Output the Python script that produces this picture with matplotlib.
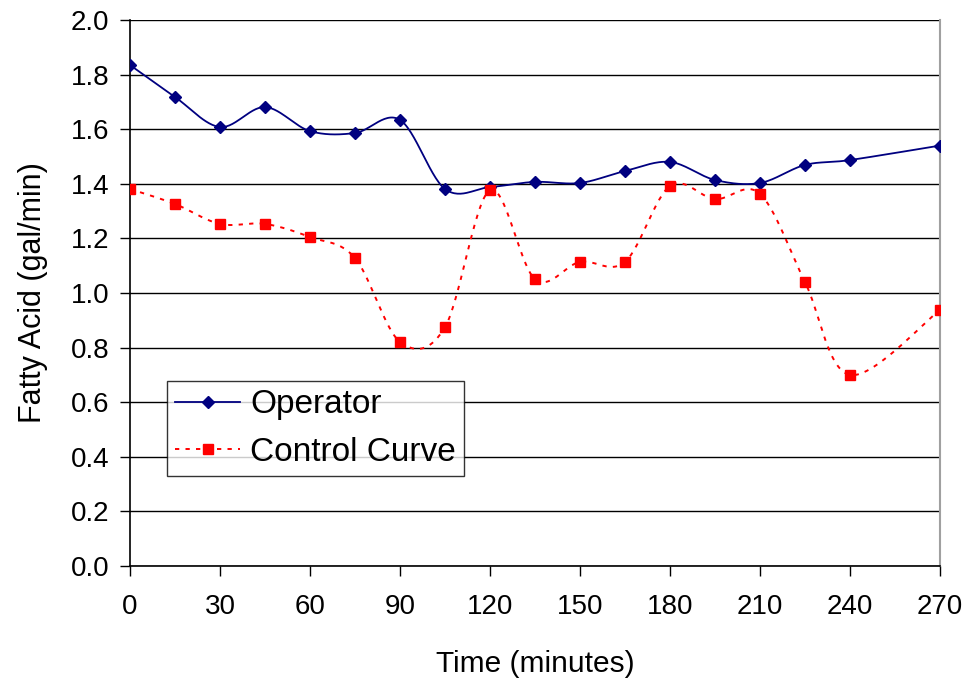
import numpy as np
import matplotlib
matplotlib.use("Agg")
import matplotlib.pyplot as plt
from matplotlib.lines import Line2D

plt.rcParams['font.family'] = ['Liberation Sans', 'DejaVu Sans']

time_min = [0, 15, 30, 45, 60, 75, 90, 105, 120, 135, 150, 165, 180, 195, 210, 225, 240, 270]
operator = [1.835, 1.718, 1.608, 1.681, 1.593, 1.586, 1.634, 1.381, 1.388, 1.407, 1.403, 1.447,
            1.480, 1.414, 1.403, 1.469, 1.487, 1.540]
control = [1.381, 1.326, 1.253, 1.253, 1.205, 1.128, 0.821, 0.875, 1.377, 1.051, 1.114, 1.114,
           1.392, 1.344, 1.363, 1.040, 0.700, 0.938]
x_ticks = [0, 30, 60, 90, 120, 150, 180, 210, 240, 270]
y_ticks = [0.0, 0.2, 0.4, 0.6, 0.8, 1.0, 1.2, 1.4, 1.6, 1.8, 2.0]


def smooth(xs, ys, n=30):
    # Excel-style smoothed line: cubic Bezier with Catmull-Rom control points
    xs = np.asarray(xs, float); ys = np.asarray(ys, float)
    sx, sy = 270.0, 2.0 * 546 / 810
    P = np.column_stack([xs / sx, ys / sy])
    out = [P[0]]
    for i in range(len(P) - 1):
        p0 = P[i - 1] if i > 0 else P[i]
        p1 = P[i]
        p2 = P[i + 1]
        p3 = P[i + 2] if i + 2 < len(P) else P[i + 1]
        c1 = p1 + (p2 - p0) / 6.0
        c2 = p2 - (p3 - p1) / 6.0
        t = np.linspace(0, 1, n)[1:, None]
        seg = ((1 - t) ** 3) * p1 + 3 * ((1 - t) ** 2) * t * c1 + 3 * (1 - t) * t ** 2 * c2 + t ** 3 * p2
        out.extend(seg)
    out = np.array(out)
    return out[:, 0] * sx, out[:, 1] * sy


fig = plt.figure(figsize=(9.69, 6.85), dpi=100)
ax = fig.add_axes([130 / 969, 1 - 566 / 685, 810 / 969, 546 / 685])

ax.set_xlim(0, 270)
ax.set_ylim(0, 2.0)
ax.set_xticks(x_ticks)
ax.set_yticks(y_ticks)
ax.set_yticklabels([f"{v:.1f}" for v in y_ticks])
ax.yaxis.grid(True, color='black', linewidth=1.0)
ax.set_axisbelow(True)

ax.spines['top'].set_visible(False)
ax.spines['right'].set_color('#a0a0a0')
ax.spines['right'].set_linewidth(1.5)
ax.spines['left'].set_linewidth(1.2)
ax.spines['bottom'].set_linewidth(1.2)

ax.tick_params(axis='both', direction='out', length=7, width=1.0, labelsize=20, pad=8)
ax.tick_params(axis='x', pad=13)

blue = '#000080'
red = '#ff0000'
dots = (0, (2.2, 3.2))

ox, oy = smooth(time_min, operator)
ax.plot(ox, oy, color=blue, linewidth=1.3, zorder=3)
ax.plot(time_min, operator, linestyle='none', marker='D', markersize=6.5, color=blue, zorder=4)

cx, cy = smooth(time_min, control)
ax.plot(cx, cy, color=red, linewidth=1.4, linestyle=dots, zorder=3)
ax.plot(time_min, control, linestyle='none', marker='s', markersize=7, color=red, zorder=4)

h1 = Line2D([], [], color=blue, linewidth=1.3, marker='D', markersize=6)
h2 = Line2D([], [], color=red, linewidth=1.4, linestyle=dots, marker='s', markersize=7)
leg = ax.legend([h1, h2], ['Operator', 'Control Curve'], loc='upper left',
                bbox_to_anchor=((167 - 130) / 810, (566 - 381) / 546),
                fontsize=24, frameon=True, fancybox=False, edgecolor='black',
                handlelength=1.95, handletextpad=0.3, borderpad=0.25, labelspacing=0.5,
                borderaxespad=0)
leg.get_frame().set_linewidth(1.0)

ax.set_xlabel('Time (minutes)', fontsize=21.5, labelpad=22)
ax.set_ylabel('Fatty Acid (gal/min)', fontsize=22, labelpad=16)

fig.savefig('out.png', dpi=100)
